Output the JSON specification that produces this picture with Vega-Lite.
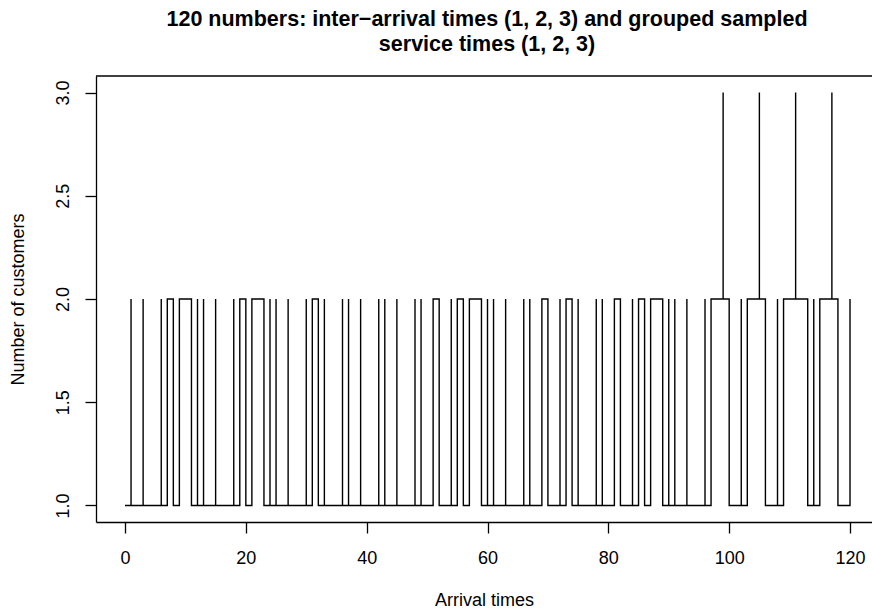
{
  "$schema": "https://vega.github.io/schema/vega-lite/v6.json",
  "width": 776,
  "height": 446,
  "autosize": {"type": "none"},
  "padding": {"left": 96, "top": 76, "right": 0, "bottom": 88},
  "background": "white",
  "config": {"view": {"stroke": null}, "font": "Liberation Sans"},
  "title": {
    "text": ["120 numbers: inter\u2212arrival times (1, 2, 3) and grouped sampled", "service times (1, 2, 3)"],
    "font": "Liberation Sans",
    "fontSize": 21.5,
    "fontWeight": "bold",
    "color": "black",
    "lineHeight": 25,
    "offset": 20,
    "anchor": "middle",
    "dx": 3
  },
  "data": {"values": [
    {"i":1,"t":0,"n":1},
    {"i":2,"t":1,"n":2},{"i":3,"t":1,"n":1},
    {"i":4,"t":3,"n":2},{"i":5,"t":3,"n":1},
    {"i":6,"t":6,"n":2},{"i":7,"t":6,"n":1},
    {"i":8,"t":7,"n":2},{"i":9,"t":8,"n":1},
    {"i":10,"t":9,"n":2},{"i":11,"t":11,"n":1},
    {"i":12,"t":12,"n":2},{"i":13,"t":12,"n":1},
    {"i":14,"t":13,"n":2},{"i":15,"t":13,"n":1},
    {"i":16,"t":15,"n":2},{"i":17,"t":15,"n":1},
    {"i":18,"t":18,"n":2},{"i":19,"t":18,"n":1},
    {"i":20,"t":19,"n":2},{"i":21,"t":20,"n":1},
    {"i":22,"t":21,"n":2},{"i":23,"t":23,"n":1},
    {"i":24,"t":24,"n":2},{"i":25,"t":24,"n":1},
    {"i":26,"t":25,"n":2},{"i":27,"t":25,"n":1},
    {"i":28,"t":27,"n":2},{"i":29,"t":27,"n":1},
    {"i":30,"t":30,"n":2},{"i":31,"t":30,"n":1},
    {"i":32,"t":31,"n":2},{"i":33,"t":32,"n":1},
    {"i":34,"t":33,"n":2},{"i":35,"t":33,"n":1},
    {"i":36,"t":36,"n":2},{"i":37,"t":36,"n":1},
    {"i":38,"t":37,"n":2},{"i":39,"t":37,"n":1},
    {"i":40,"t":39,"n":2},{"i":41,"t":39,"n":1},
    {"i":42,"t":42,"n":2},{"i":43,"t":42,"n":1},
    {"i":44,"t":43,"n":2},{"i":45,"t":43,"n":1},
    {"i":46,"t":45,"n":2},{"i":47,"t":45,"n":1},
    {"i":48,"t":48,"n":2},{"i":49,"t":48,"n":1},
    {"i":50,"t":49,"n":2},{"i":51,"t":49,"n":1},
    {"i":52,"t":51,"n":2},{"i":53,"t":52,"n":1},
    {"i":54,"t":54,"n":2},{"i":55,"t":54,"n":1},
    {"i":56,"t":55,"n":2},{"i":57,"t":56,"n":1},
    {"i":58,"t":57,"n":2},{"i":59,"t":59,"n":1},
    {"i":60,"t":60,"n":2},{"i":61,"t":60,"n":1},
    {"i":62,"t":61,"n":2},{"i":63,"t":61,"n":1},
    {"i":64,"t":63,"n":2},{"i":65,"t":63,"n":1},
    {"i":66,"t":66,"n":2},{"i":67,"t":66,"n":1},
    {"i":68,"t":67,"n":2},{"i":69,"t":67,"n":1},
    {"i":70,"t":69,"n":2},{"i":71,"t":70,"n":1},
    {"i":72,"t":72,"n":2},{"i":73,"t":72,"n":1},
    {"i":74,"t":73,"n":2},{"i":75,"t":74,"n":1},
    {"i":76,"t":75,"n":2},{"i":77,"t":75,"n":1},
    {"i":78,"t":78,"n":2},{"i":79,"t":78,"n":1},
    {"i":80,"t":79,"n":2},{"i":81,"t":79,"n":1},
    {"i":82,"t":81,"n":2},{"i":83,"t":82,"n":1},
    {"i":84,"t":84,"n":2},{"i":85,"t":84,"n":1},
    {"i":86,"t":85,"n":2},{"i":87,"t":86,"n":1},
    {"i":88,"t":87,"n":2},{"i":89,"t":89,"n":1},
    {"i":90,"t":90,"n":2},{"i":91,"t":90,"n":1},
    {"i":92,"t":91,"n":2},{"i":93,"t":91,"n":1},
    {"i":94,"t":93,"n":2},{"i":95,"t":93,"n":1},
    {"i":96,"t":96,"n":2},{"i":97,"t":96,"n":1},
    {"i":98,"t":97,"n":2},{"i":99,"t":99,"n":3},{"i":100,"t":99,"n":2},{"i":101,"t":100,"n":1},
    {"i":102,"t":102,"n":2},{"i":103,"t":102,"n":1},
    {"i":104,"t":103,"n":2},{"i":105,"t":105,"n":3},{"i":106,"t":105,"n":2},{"i":107,"t":106,"n":1},
    {"i":108,"t":108,"n":2},{"i":109,"t":108,"n":1},
    {"i":110,"t":109,"n":2},{"i":111,"t":111,"n":3},{"i":112,"t":111,"n":2},{"i":113,"t":113,"n":1},
    {"i":114,"t":114,"n":2},{"i":115,"t":114,"n":1},
    {"i":116,"t":115,"n":2},{"i":117,"t":117,"n":3},{"i":118,"t":117,"n":2},{"i":119,"t":118,"n":1},
    {"i":120,"t":120,"n":2},{"i":121,"t":120,"n":1}
  ]},
  "layer": [
    {
      "mark": {"type": "line", "interpolate": "step-after", "color": "black", "strokeWidth": 1.4},
      "encoding": {
        "x": {
          "field": "t", "type": "quantitative",
          "scale": {"domain": [-4.8, 123.64], "nice": false, "zero": false},
          "axis": {
            "values": [0, 20, 40, 60, 80, 100, 120],
            "title": "Arrival times",
            "grid": false,
            "domainColor": "black", "tickColor": "black", "labelColor": "black", "titleColor": "black",
            "domainWidth": 1.3, "tickWidth": 1.3,
            "tickSize": 11, "labelPadding": 16,
            "labelFontSize": 18, "labelFont": "Liberation Sans",
            "titleFontSize": 18, "titleFont": "Liberation Sans", "titleFontWeight": "normal",
            "titlePadding": 24
          }
        },
        "y": {
          "field": "n", "type": "quantitative",
          "scale": {"domain": [0.92, 3.08], "nice": false, "zero": false},
          "axis": {
            "values": [1, 1.5, 2, 2.5, 3],
            "format": ".1f",
            "title": "Number of customers",
            "grid": false,
            "domainColor": "black", "tickColor": "black", "labelColor": "black", "titleColor": "black",
            "domainWidth": 1.3, "tickWidth": 1.3,
            "tickSize": 11, "labelPadding": 13,
            "labelAngle": 270, "labelAlign": "center", "labelBaseline": "bottom",
            "labelFontSize": 18, "labelFont": "Liberation Sans",
            "titleFontSize": 18, "titleFont": "Liberation Sans", "titleFontWeight": "normal",
            "titlePadding": 27
          }
        },
        "order": {"field": "i", "type": "quantitative"}
      }
    },
    {
      "data": {"values": [{}]},
      "mark": {"type": "rule", "color": "black", "strokeWidth": 1.3},
      "encoding": {"y": {"datum": 3.08}}
    }
  ]
}
